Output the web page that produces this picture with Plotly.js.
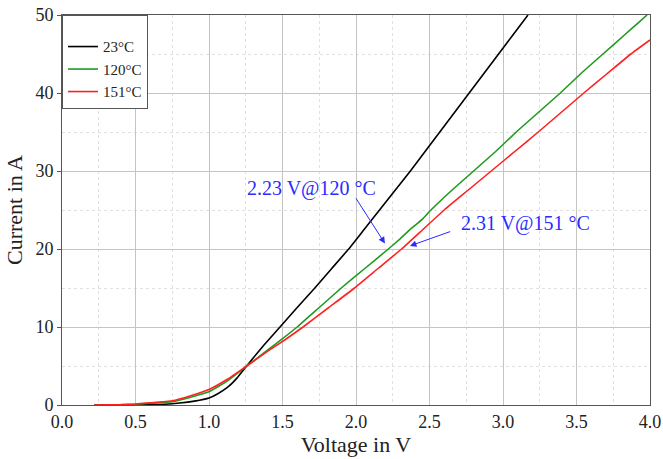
<!DOCTYPE html>
<html>
<head>
<meta charset="utf-8">
<script src="https://cdn.plot.ly/plotly-3.0.1.min.js"></script>
<style>html,body{margin:0;padding:0;background:#fff;}#chart{width:663px;height:459px;}</style>
</head>
<body>
<div id="chart"></div>
<script>
// Series names
const seriesNames = ["23°C", "120°C", "151°C"];

// 23°C curve
const v23 = [0.22, 0.4, 0.5, 0.6, 0.7, 0.8, 0.9, 1.0, 1.06, 1.125, 1.19, 1.256, 1.37, 1.483, 1.60, 1.72, 1.835, 1.95, 2.055, 2.16, 2.265, 2.37, 2.47, 2.57, 2.67, 2.77, 2.87, 2.97, 3.07, 3.17];
const i23 = [0, 0.01, 0.02, 0.05, 0.1, 0.25, 0.5, 0.9, 1.45, 2.25, 3.45, 5.0, 7.6, 10, 12.5, 15, 17.5, 20, 22.5, 25, 27.5, 30, 32.5, 35, 37.5, 40, 42.5, 45, 47.5, 50];

// 120°C curve
const v120 = [0.22, 0.4, 0.5, 0.6, 0.75, 0.875, 1.0, 1.125, 1.256, 1.40, 1.50, 1.60, 1.75, 1.90, 2.06, 2.22, 2.30, 2.38, 2.45, 2.51, 2.65, 2.80, 2.95, 3.09, 3.24, 3.39, 3.53, 3.68, 3.83, 3.92, 3.98];
const i120 = [0, 0.03, 0.1, 0.22, 0.43, 1.0, 1.7, 3.1, 5.0, 7.05, 8.5, 10, 12.5, 15, 17.5, 20, 21.3, 22.7, 23.8, 25, 27.5, 30, 32.5, 35, 37.5, 40, 42.5, 45, 47.5, 49.0, 50];

// 151°C curve
const v151 = [0.22, 0.4, 0.5, 0.6, 0.75, 0.875, 1.0, 1.125, 1.256, 1.40, 1.52, 1.64, 1.815, 1.99, 2.15, 2.31, 2.455, 2.60, 2.76, 2.92, 3.08, 3.24, 3.395, 3.55, 3.71, 3.87, 4.0];
const i151 = [0, 0.05, 0.13, 0.28, 0.55, 1.2, 2.0, 3.3, 5.0, 6.9, 8.4, 10, 12.5, 15, 17.5, 20, 22.5, 25, 27.5, 30, 32.5, 35, 37.5, 40, 42.5, 45, 46.8];

// Annotation labels
const annoTexts = ["2.23 V@120 °C", "2.31 V@151 °C"];
const annoTextPos = [[1.70, 27.8], [3.15, 23.3]];
const arrowHeads = [[2.197, 20.7], [2.367, 20.4]];
const arrowTails = [[1.993, 26.7], [2.651, 22.3]];

const xTickVals = [0, 0.5, 1, 1.5, 2, 2.5, 3, 3.5, 4];
const xTickText = ["0.0", "0.5", "1.0", "1.5", "2.0", "2.5", "3.0", "3.5", "4.0"];
const yTickVals = [0, 10, 20, 30, 40, 50];

const FONT = "Liberation Serif";
const colors = ["#000000", "#1f9a1f", "#ff2020"];
const xs = [v23, v120, v151];
const ys = [i23, i120, i151];

const traces = seriesNames.map((n, k) => ({
  x: xs[k], y: ys[k], name: n, type: "scatter", mode: "lines",
  line: {color: colors[k], width: 1.6, shape: "spline", smoothing: 0.4}
}));

const annotations = [];
for (let k = 0; k < annoTexts.length; k++) {
  annotations.push({
    x: annoTextPos[k][0], y: annoTextPos[k][1], xref: "x", yref: "y",
    text: annoTexts[k], showarrow: false,
    font: {family: FONT, size: 20, color: "#2a2aff"}
  });
  annotations.push({
    x: arrowHeads[k][0], y: arrowHeads[k][1], xref: "x", yref: "y",
    ax: arrowTails[k][0], ay: arrowTails[k][1], axref: "x", ayref: "y",
    text: "", showarrow: true, arrowhead: 2, arrowsize: 1.3, arrowwidth: 1,
    arrowcolor: "#2a2aff", standoff: 0, startstandoff: 0
  });
}

const layout = {
  width: 663, height: 459,
  margin: {l: 62, r: 13, t: 15, b: 54},
  paper_bgcolor: "#ffffff", plot_bgcolor: "#ffffff",
  font: {family: FONT, size: 17, color: "#222"},
  showlegend: true,
  legend: {
    x: 0, y: 1, xanchor: "left", yanchor: "top",
    bgcolor: "#ffffff", bordercolor: "#555", borderwidth: 1,
    font: {family: FONT, size: 15, color: "#222"},
    title: {text: " ", font: {family: FONT, size: 11}},
    itemwidth: 30, tracegroupgap: 0
  },
  xaxis: {
    range: [0, 4], tickvals: xTickVals, ticktext: xTickText,
    showgrid: true, gridcolor: "#c4c4c4", gridwidth: 1,
    minor: {dtick: 0.25, showgrid: true, gridcolor: "#e0e0e0", griddash: "dot", gridwidth: 1},
    showline: true, linecolor: "#555", linewidth: 1, mirror: true,
    ticks: "", zeroline: false,
    tickfont: {family: FONT, size: 18, color: "#222"},
    title: {text: "Voltage in V", font: {family: FONT, size: 22, color: "#222"}, standoff: 4}
  },
  yaxis: {
    range: [0, 50], tickvals: yTickVals,
    showgrid: true, gridcolor: "#c4c4c4", gridwidth: 1,
    minor: {dtick: 5, showgrid: true, gridcolor: "#e0e0e0", griddash: "dot", gridwidth: 1},
    showline: true, linecolor: "#555", linewidth: 1, mirror: true,
    ticks: "outside", ticklen: 4, tickcolor: "#555", zeroline: false,
    tickfont: {family: FONT, size: 18, color: "#222"},
    title: {text: "Current in A", font: {family: FONT, size: 22, color: "#222"}, standoff: 6}
  },
  annotations: annotations
};

Plotly.newPlot("chart", traces, layout, {displayModeBar: false, staticPlot: true});
</script>
</body>
</html>
